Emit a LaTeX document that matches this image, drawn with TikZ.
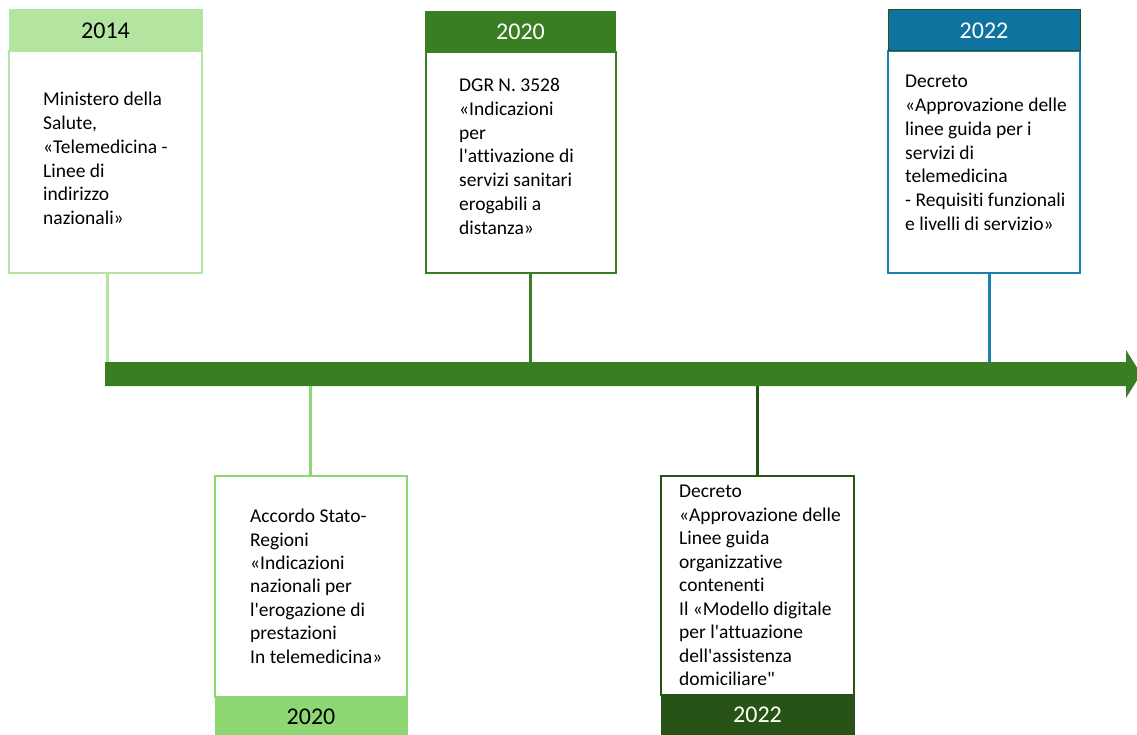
\documentclass[tikz,border=0pt]{standalone}
\usepackage{fontspec}
\setmainfont{Carlito}[Ligatures={TeXOff,NoCommon}]
\definecolor{lgA}{HTML}{B3E5A1}
\definecolor{lgB}{HTML}{8DD873}
\definecolor{mg}{HTML}{3B7D23}
\definecolor{dg}{HTML}{275317}
\definecolor{blh}{HTML}{0E739E}
\definecolor{blb}{HTML}{1D80B0}
\begin{document}
\begin{tikzpicture}[x=1pt,y=-1pt,
  body/.style={draw=#1, line width=2pt, fill=white, inner sep=0pt},
  hdr/.style={inner sep=0pt, font=\fontsize{24}{28}\selectfont},
  txt/.style={anchor=north west, align=left, inner sep=0pt, font=\fontsize{19.5}{23.8}\selectfont},
  conn/.style={line width=3pt}]
\useasboundingbox (0,0) rectangle (1137,735);

% timeline
\fill[mg] (105,362) -- (1126,362) -- (1126,350) -- (1141,374) -- (1126,398) -- (1126,386) -- (105,386) -- cycle;
\coordinate (t1) at (107,362);
\coordinate (t2) at (530,362);
\coordinate (t3) at (989,362);
\coordinate (t4) at (310,386);
\coordinate (t5) at (757,386);

% box 1
\node[body=lgA, minimum width=193pt, minimum height=222pt] (b1) at (105.5,162) {};
\node[hdr, draw=lgA, line width=1pt, fill=lgA, minimum width=193pt, minimum height=41pt] (h1) at (105.5,30.5) {2014};
\node[txt] (x1) at (43,92) {Ministero della\\Salute,\\«Telemedicina -\\Linee di\\indirizzo\\nazionali»};
\draw[conn, lgA] (t1 |- b1.south) -- (t1);

% box 2
\node[body=mg, minimum width=190pt, minimum height=221pt] (b2) at (520.5,162.5) {};
\node[hdr, draw=mg, line width=1pt, fill=mg, text=white, minimum width=190pt, minimum height=40pt] (h2) at (520.5,32) {2020};
\node[txt] (x2) at (459,78) {DGR N. 3528\\«Indicazioni\\per\\l'attivazione di\\servizi sanitari\\erogabili a\\distanza»};
\draw[conn, mg] (t2 |- b2.south) -- (t2);

% box 3
\node[body=blb, minimum width=192pt, minimum height=222pt] (b3) at (984,162) {};
\node[hdr, draw=dg, line width=1pt, fill=blh, text=white, minimum width=192pt, minimum height=41pt] (h3) at (984,30.5) {2022};
\node[txt] (x3) at (905,75) {Decreto\\«Approvazione delle\\linee guida per i\\servizi di\\telemedicina\\- Requisiti funzionali\\e livelli di servizio»};
\draw[conn, blb] (t3 |- b3.south) -- (t3);

% box 4
\node[body=lgB, minimum width=192pt, minimum height=221pt] (b4) at (311,586.5) {};
\node[hdr, draw=lgB, line width=1pt, fill=lgB, minimum width=192pt, minimum height=40pt] (h4) at (311,717) {2020};
\node[txt, font=\fontsize{19.5}{23.4}\selectfont] (x4) at (250,509) {Accordo Stato-\\Regioni\\«Indicazioni\\nazionali per\\l'erogazione di\\prestazioni\\In telemedicina»};
\draw[conn, lgB] (t4) -- (t4 |- b4.north);

% box 5
\node[body=dg, minimum width=193pt, minimum height=219pt] (b5) at (757.5,585.5) {};
\node[hdr, draw=dg, line width=1pt, fill=dg, text=white, minimum width=193pt, minimum height=40pt] (h5) at (757.5,715) {2022};
\node[txt, font=\fontsize{19.5}{23.5}\selectfont] (x5) at (679,485) {Decreto\\«Approvazione delle\\Linee guida\\organizzative\\contenenti\\Il «Modello digitale\\per l'attuazione\\dell'assistenza\\domiciliare"};
\draw[conn, dg] (t5) -- (t5 |- b5.north);
\end{tikzpicture}
\end{document}
